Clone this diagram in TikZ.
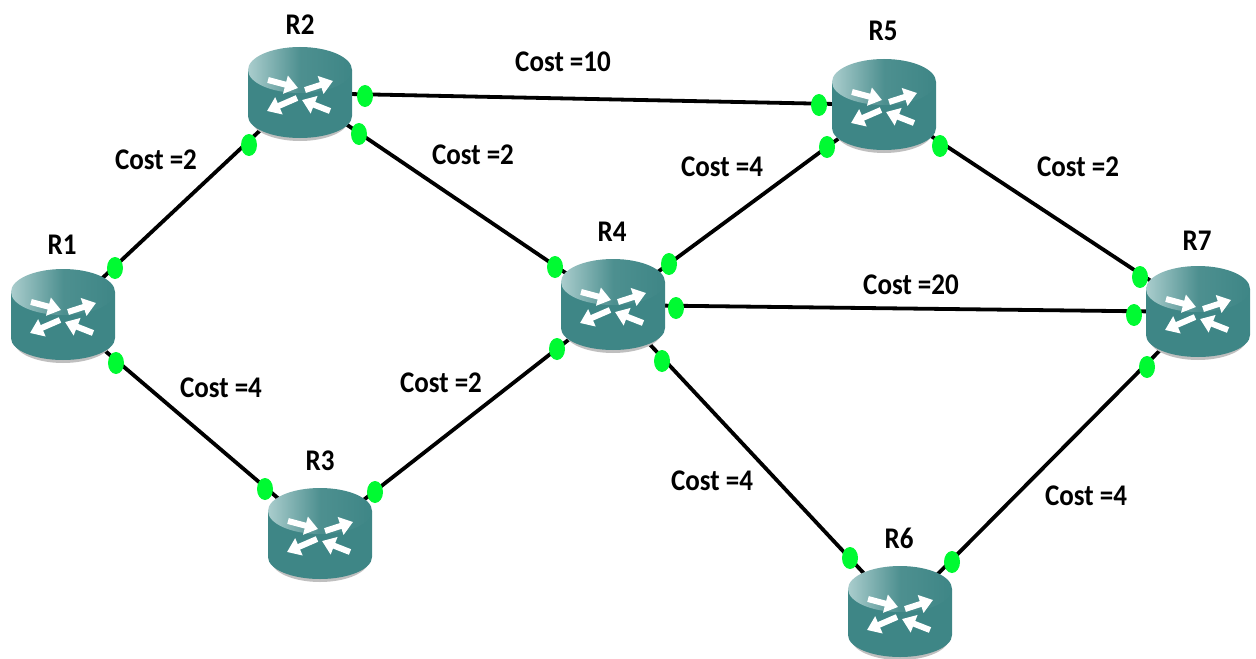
\documentclass[tikz,border=0pt]{standalone}
\usepackage{fontspec}
\setmainfont{Carlito}
\usetikzlibrary{arrows.meta,shapes.geometric}
\definecolor{routerteal}{RGB}{62,134,134}
\definecolor{routerlight}{RGB}{170,205,205}
\definecolor{portgreen}{RGB}{0,250,50}
\tikzset{
  link/.style={line width=1.9pt,black},
  port/.style={ellipse,fill=portgreen,inner sep=0pt,minimum width=8pt,minimum height=11pt},
  rname/.style={font=\bfseries\fontsize{15}{15}\selectfont,inner sep=0pt,xscale=0.9},
  costlabel/.style={font=\bfseries\fontsize{15}{15}\selectfont,inner sep=0pt,xscale=0.9},
  flow/.style={white,line width=3pt,-{Triangle[width=9pt,length=6.5pt]}},
  routerpic/.pic={
    \fill[black!25] (-49,-16) -- (-49,26) arc (180:0:49 and 22) -- (49,-16) -- cycle;
    \fill[routerteal] (-52,-23) -- (-52,23) arc (180:0:52 and 22) -- (52,-23) -- cycle;
    \shade[left color=routerlight,right color=routerteal,middle color=routerteal!92!white] (0,-23) ellipse (52 and 23);
    \draw[flow] (-32,-13) -- (-2,-5);
    \draw[flow] (5,-3) -- (33,-12);
    \draw[flow] (-3,5) -- (-33,18);
    \draw[flow] (30,18) -- (2,7);
  }
}
\begin{document}
\begin{tikzpicture}[x=0.5pt,y=-0.5pt]
\useasboundingbox (0,0) rectangle (1256,658);
% routers
\foreach \name/\x/\y in {R1/63/315,R2/300/93,R3/320/534,R4/613/305,R5/884/105,R6/900/612,R7/1198/312}
  \coordinate (\name) at (\x,\y);
% links
\draw[link] (R1) -- (R2);
\draw[link] (R1) -- (R3);
\draw[link] (R2) -- (R4);
\draw[link] (R2) -- (R5);
\draw[link] (R3) -- (R4);
\draw[link] (R4) -- (R5);
\draw[link] (R4) -- (R7);
\draw[link] (R4) -- (R6);
\draw[link] (R5) -- (R7);
\draw[link] (R6) -- (R7);
\foreach \name in {R1,R2,R3,R4,R5,R6,R7}
  \pic at (\name) {routerpic};
% router names
\foreach \name/\x/\y in {R1/62/245,R2/300/25,R3/320/461,R4/612/232,R5/883/31,R6/899/538,R7/1197/241}
  \node[rname] (label\name) at (\x,\y) {\name};
% ports
\foreach \x/\y [count=\i] in {115/268,116/363,249/145,365/96,359/134,265/489,375/492,555/267,
    669/264,676/308,557/349,662/361,819/105,827/147,940/146,1140/277,1134/315,1147/367,850/558,952/562}
  \node[port] (port\i) at (\x,\y) {};
% costs
\node[costlabel] (cost12) at (156,160) {Cost =2};
\node[costlabel] (cost25) at (563,62) {Cost =10};
\node[costlabel] (cost24) at (473,155) {Cost =2};
\node[costlabel] (cost45) at (722,167) {Cost =4};
\node[costlabel] (cost57) at (1078,167) {Cost =2};
\node[costlabel] (cost47) at (911,285) {Cost =20};
\node[costlabel] (cost13) at (221,388) {Cost =4};
\node[costlabel] (cost34) at (441,383) {Cost =2};
\node[costlabel] (cost46) at (712,481) {Cost =4};
\node[costlabel] (cost67) at (1086,496) {Cost =4};
\end{tikzpicture}
\end{document}
